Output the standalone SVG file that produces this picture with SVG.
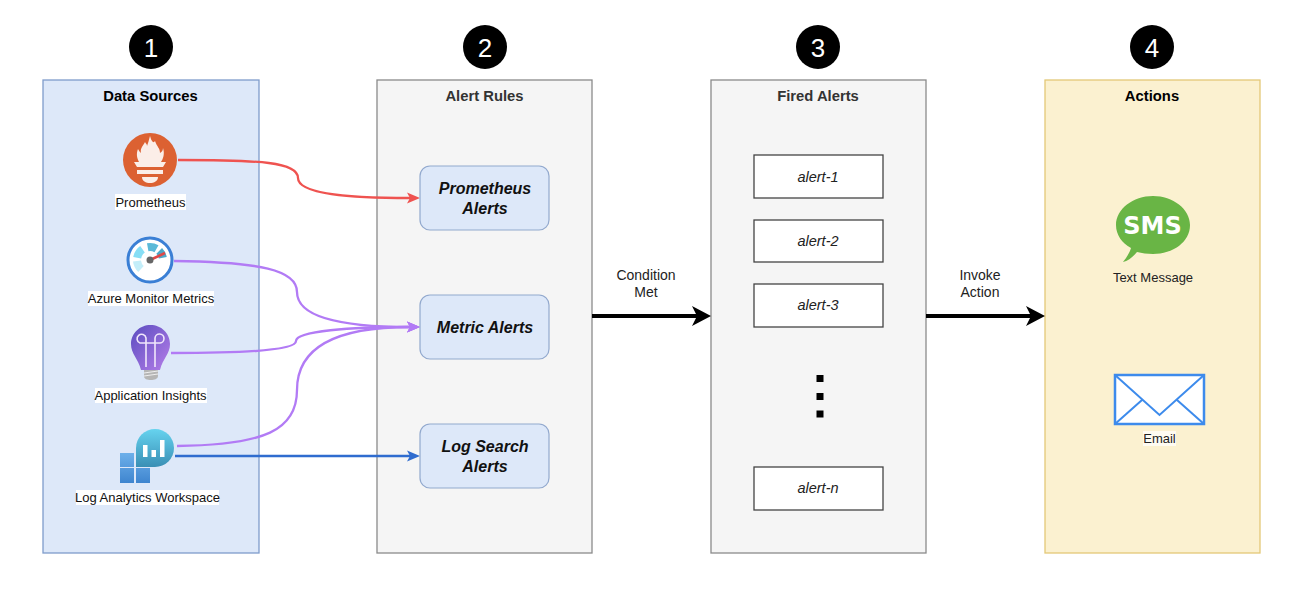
<svg xmlns="http://www.w3.org/2000/svg" width="1290" height="596" viewBox="0 0 1290 596">
<style>
text{font-family:"Liberation Sans",Arial,sans-serif;text-anchor:middle}
.panel{stroke-width:1.3}
.title{font-size:14.8px;font-weight:bold}
.num{font-size:26px;fill:#fff}
.badge{fill:#000}
.rule{fill:#dde8f9;stroke:#92a9ce;stroke-width:1.2}
.rt{font-size:16px;font-weight:bold;font-style:italic;fill:#111}
.al{fill:#fff;stroke:#444;stroke-width:1.3}
.at{font-size:14.500px;font-style:italic;fill:#222}
.lb{font-size:13px;fill:#111}
.cap{font-size:14px;fill:#222}
.bg{fill:#fff}
.c{fill:none;stroke-width:2.300}
.g{fill:none;stroke-width:8}
</style>
<defs>
<marker id="aR" markerUnits="userSpaceOnUse" markerWidth="14" markerHeight="14" refX="3" refY="7" orient="auto"><path d="M0 1.500L13 7L0 12.500L3 7z" fill="#ef5350"/></marker>
<marker id="aP" markerUnits="userSpaceOnUse" markerWidth="14" markerHeight="14" refX="3" refY="7" orient="auto"><path d="M0 1.500L13 7L0 12.500L3 7z" fill="#b27bf5"/></marker>
<marker id="aB" markerUnits="userSpaceOnUse" markerWidth="14" markerHeight="14" refX="3" refY="7" orient="auto"><path d="M0 1.500L13 7L0 12.500L3 7z" fill="#2f6ccf"/></marker>
<marker id="aK" markerUnits="userSpaceOnUse" markerWidth="20" markerHeight="22" refX="5" refY="11" orient="auto"><path d="M0 1L19 11L0 21L5 11z" fill="#000"/></marker>
<linearGradient id="gBulb" x1="0" y1="0" x2="1" y2="1"><stop offset="0" stop-color="#5a4cc0"/><stop offset="1" stop-color="#b57ee8"/></linearGradient>
<linearGradient id="gBub" x1="0" y1="0" x2="0" y2="1"><stop offset="0" stop-color="#66d3ef"/><stop offset="1" stop-color="#3a8fb5"/></linearGradient>
<linearGradient id="gSq" x1="0" y1="0" x2="0" y2="1"><stop offset="0" stop-color="#6db0ea"/><stop offset="1" stop-color="#3f85cf"/></linearGradient>
</defs>

<g id="panel-data-sources"><rect class="panel" x="43" y="80" width="216" height="473" fill="#dde8f9" stroke="#7f9ccb"/><text class="title" x="150.500" y="101" fill="#000">Data Sources</text></g>
<g id="panel-alert-rules"><rect class="panel" x="377" y="80" width="215" height="473" fill="#f5f5f5" stroke="#8a8a8a"/><text class="title" x="484.500" y="101" fill="#333">Alert Rules</text></g>
<g id="panel-fired-alerts"><rect class="panel" x="711" y="80" width="215" height="473" fill="#f5f5f5" stroke="#8a8a8a"/><text class="title" x="818" y="101" fill="#333">Fired Alerts</text></g>
<g id="panel-actions"><rect class="panel" x="1045" y="80" width="215" height="473" fill="#fbf1d0" stroke="#e3c877"/><text class="title" x="1152" y="101" fill="#000">Actions</text></g>

<g id="badge-1"><circle class="badge" cx="151" cy="47" r="22"/><text class="num" x="151" y="56.500">1</text></g>
<g id="badge-2"><circle class="badge" cx="485" cy="47" r="22"/><text class="num" x="485" y="56.500">2</text></g>
<g id="badge-3"><circle class="badge" cx="818" cy="47" r="22"/><text class="num" x="818" y="56.500">3</text></g>
<g id="badge-4"><circle class="badge" cx="1152" cy="47" r="22"/><text class="num" x="1152" y="56.500">4</text></g>

<g id="connectors">
<path class="c" stroke="#ef5350" marker-end="url(#aR)" d="M178 160C260 160 298 162 298 178C298 194 350 198 410 198"/>
<path class="c" stroke="#b27bf5" marker-end="url(#aP)" d="M174 261C260 262 297 270 297 292C297 318 345 327 410 327"/>
<path class="c" stroke="#b27bf5" marker-end="url(#aP)" d="M171 353C235 353 296 351 296 341C296 331 350 327 410 327"/>
<path class="c" stroke="#b27bf5" marker-end="url(#aP)" d="M177 446C265 445 297 430 297 390C297 345 340 327 410 327"/>
<path class="c" stroke="#2f6ccf" marker-end="url(#aB)" d="M175 456H410"/>
<path fill="none" stroke="#000" stroke-width="4" marker-end="url(#aK)" d="M592 316H697"/>
<path fill="none" stroke="#000" stroke-width="4" marker-end="url(#aK)" d="M926 316H1031"/>
</g>

<g id="prometheus">
<circle cx="150" cy="160" r="27" fill="#dc6132"/>
<path fill="#fbeee8" d="M150 136C152 143 154 143 155 141C157 147 160 148 160 153C162 152 163 150 163 148C165 154 163 159 161 162H139C137 158 136 154 138 149C139 151 140 152 141 153C140 148 143 146 145 142C146 144 147 144 147 146C148 143 149 140 150 136z"/>
<path fill="#fbeee8" d="M134 162H166L163 167H137zM137 170H163V174H137zM142 177H158C158 181 154 183 150 183C146 183 142 181 142 177z"/>
<rect class="bg" x="115" y="194" width="71" height="16"/>
<text class="lb" x="150.500" y="206.500">Prometheus</text>
</g>

<g id="azure-monitor-metrics">
<circle cx="150" cy="260" r="22" fill="#fff" stroke="#3a7fd5" stroke-width="3"/>
<path class="g" stroke="#c4eef9" d="M137 261A13 13 0 0 0 141 269"/>
<path class="g" stroke="#87def5" d="M137.200 257.700A13 13 0 0 1 142.500 249.300"/>
<path class="g" stroke="#5bb9d8" d="M147.700 247.200A13 13 0 0 1 156.500 248.700"/>
<path class="g" stroke="#4da8c8" d="M159.200 250.800A13 13 0 0 1 162.800 257.700"/>
<path d="M150 260L165 253" stroke="#e04848" stroke-width="2.500" fill="none"/>
<circle cx="150" cy="260" r="3.500" fill="#666"/>
<rect class="bg" x="88" y="291" width="126" height="15"/>
<text class="lb" x="151" y="303">Azure Monitor Metrics</text>
</g>

<g id="application-insights">
<path fill="url(#gBulb)" d="M150.500 325C161 325 170 333 170 344C170 354 163 358 160 370H141C138 358 131 354 131 344C131 333 140 325 150.500 325z"/>
<path fill="none" stroke="#f0e6fb" stroke-width="1.600" d="M146 367V343M155 367V343M146 343H140A4.500 4.500 0 1 1 146 338V343H155V338A4.500 4.500 0 1 1 160 343H155"/>
<path fill="#b5b5b5" d="M144 370H158V376C158 379 154 380 151 380C147 380 144 379 144 376z"/>
<path stroke="#eee" stroke-width="1" d="M144 373L158 371M144 376L158 374"/>
<rect class="bg" x="95" y="388" width="112" height="15"/>
<text class="lb" x="150.500" y="400">Application Insights</text>
</g>

<g id="log-analytics-workspace">
<path fill="url(#gSq)" d="M120 453H134V467H120zM120 468H134V483H120zM136 468H150V483H136z"/>
<path fill="url(#gBub)" d="M155 429A19 19 0 0 1 155 467H136V448A19 19 0 0 1 155 429z"/>
<path fill="#fff" d="M143 445H147.500V457H143zM151.500 450H156V457H151.500zM160 440H164.500V457H160z"/>
<rect class="bg" x="76" y="490" width="143" height="15"/>
<text class="lb" x="147.500" y="502">Log Analytics Workspace</text>
</g>

<g id="rule-prometheus"><rect class="rule" x="420" y="166" width="129" height="64" rx="10"/><text class="rt" x="485" y="194">Prometheus</text><text class="rt" x="485" y="213.500">Alerts</text></g>
<g id="rule-metric"><rect class="rule" x="420" y="295" width="129" height="64" rx="10"/><text class="rt" x="485" y="333">Metric Alerts</text></g>
<g id="rule-log"><rect class="rule" x="420" y="424" width="129" height="64" rx="10"/><text class="rt" x="485" y="452">Log Search</text><text class="rt" x="485" y="471.500">Alerts</text></g>

<g id="alert-1"><rect class="al" x="754" y="155" width="129" height="43"/><text class="at" x="818" y="182">alert-1</text></g>
<g id="alert-2"><rect class="al" x="754" y="220" width="129" height="42"/><text class="at" x="818" y="246">alert-2</text></g>
<g id="alert-3"><rect class="al" x="754" y="284" width="129" height="43"/><text class="at" x="818" y="310">alert-3</text></g>
<g id="alert-n"><rect class="al" x="754" y="467" width="129" height="43"/><text class="at" x="818" y="493">alert-n</text></g>
<g id="ellipsis"><rect x="816.500" y="375" width="7" height="7"/><rect x="816.500" y="393" width="7" height="7"/><rect x="816.500" y="410.500" width="7" height="7"/></g>

<g id="label-condition"><text class="cap" x="646" y="280">Condition</text><text class="cap" x="646" y="297">Met</text></g>
<g id="label-invoke"><text class="cap" x="980" y="280">Invoke</text><text class="cap" x="980" y="297">Action</text></g>

<g id="text-message">
<path fill="#69b545" d="M1153 196C1173 196 1190 209 1190 225C1190 242 1173 254 1153 254C1147 254 1142 253 1137 252C1133 257 1128 261 1123 262C1127 257 1130 252 1131 248C1122 243 1116 235 1116 225C1116 209 1133 196 1153 196z"/>
<text x="1152.500" y="234" font-size="24" font-weight="bold" fill="#fff" style="font-family:'DejaVu Sans',sans-serif">SMS</text>
<text x="1153" y="282" font-size="13" fill="#222">Text Message</text>
</g>

<g id="email">
<rect x="1115" y="375" width="89" height="49" fill="#fff" stroke="#3d8bec" stroke-width="2.500"/>
<path fill="none" stroke="#3d8bec" stroke-width="2" d="M1115 375L1159.500 415L1204 375M1115 424L1142 400M1204 424L1177 400"/>
<rect x="1143" y="431" width="33" height="15" class="bg" opacity="0.7"/>
<text x="1159.500" y="443" font-size="13" fill="#222">Email</text>
</g>
</svg>
